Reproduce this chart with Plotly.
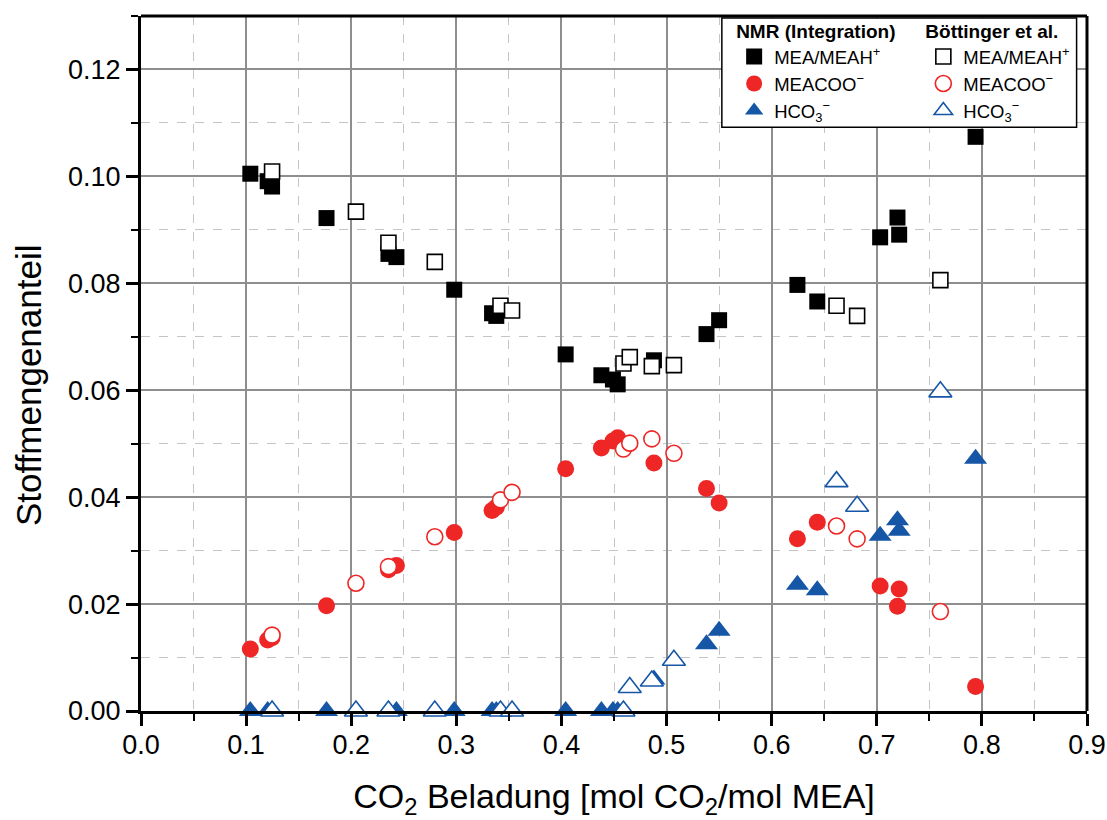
import plotly.graph_objects as go

# CO2 loading [mol CO2 / mol MEA]
nmr_x = [0.104, 0.1205, 0.1247, 0.1765, 0.2354, 0.243, 0.298, 0.334, 0.338, 0.404, 0.438,
         0.449, 0.4535, 0.488, 0.538, 0.550, 0.6245, 0.6434, 0.7032, 0.7197, 0.7213, 0.794]
nmr_mea = [0.1005, 0.0991, 0.0981, 0.0922, 0.0855, 0.0849, 0.0788, 0.0744, 0.0739, 0.0667, 0.0628,
           0.0620, 0.0611, 0.0656, 0.0705, 0.0731, 0.0797, 0.0766, 0.0886, 0.0923, 0.0891, 0.1074]
nmr_meacoo = [0.0116, 0.0133, 0.0137, 0.0197, 0.0264, 0.0272, 0.0334, 0.0375, 0.0381, 0.0453, 0.0492,
              0.0505, 0.0511, 0.0464, 0.0416, 0.0389, 0.0322, 0.0353, 0.0234, 0.0196, 0.0228, 0.0046]
nmr_hco3 = [0, 0, 0, 0, 0, 0, 0, 0, 0, 0, 0,
            0, 0, 0.0059, 0.0125, 0.0150, 0.0236, 0.0226, 0.0328, 0.0357, 0.0337, 0.0472]

bott_x = [0.1247, 0.2045, 0.2354, 0.2795, 0.342, 0.353, 0.459, 0.465, 0.486, 0.507, 0.6617, 0.6813, 0.7605]
bott_mea = [0.1009, 0.0934, 0.0876, 0.0840, 0.0758, 0.0749, 0.0650, 0.0662, 0.0645, 0.0647, 0.0758, 0.0739, 0.0806]
bott_meacoo = [0.0142, 0.0239, 0.0270, 0.0326, 0.0395, 0.0409, 0.0490, 0.0501, 0.0509, 0.0482, 0.0346, 0.0322, 0.0186]
bott_hco3 = [0, 0, 0, 0, 0, 0, 0, 0.0044, 0.0056, 0.0095, 0.0429, 0.0383, 0.0597]

x_ticks = [0.0, 0.1, 0.2, 0.3, 0.4, 0.5, 0.6, 0.7, 0.8, 0.9]
y_ticks = [0.00, 0.02, 0.04, 0.06, 0.08, 0.10, 0.12]

BLACK = "#000000"
RED = "#EE2626"
BLUE = "#1656A6"
FONT = "Liberation Sans, Arial, sans-serif"

names = ["MEA/MEAH<sup>+</sup>", "MEACOO<sup>−</sup>", "HCO<sub>3</sub><sup>−</sup>"]

fig = go.Figure()

# NMR integration: filled symbols
for y, name, sym, col, size in [
    (nmr_mea, names[0], "square", BLACK, 16),
    (nmr_meacoo, names[1], "circle", RED, 17),
    (nmr_hco3, names[2], "triangle-up", BLUE, 20),
]:
    fig.add_trace(go.Scatter(
        x=nmr_x, y=y, mode="markers", name=name, legend="legend",
        cliponaxis=False,
        marker=dict(symbol=sym, size=size, color=col, line=dict(width=0)),
    ))

# Literature data: open symbols
for y, name, sym, col, size in [
    (bott_mea, names[0], "square", BLACK, 15),
    (bott_meacoo, names[1], "circle", RED, 16),
    (bott_hco3, names[2], "triangle-up", BLUE, 20),
]:
    fig.add_trace(go.Scatter(
        x=bott_x, y=y, mode="markers", name=name, legend="legend2",
        cliponaxis=False,
        marker=dict(symbol=sym, size=size, color="white", line=dict(width=1.6, color=col)),
    ))

axis_common = dict(
    showline=True, linecolor="black", linewidth=3, mirror=False,
    ticks="outside", ticklen=12, tickwidth=2.5, tickcolor="black",
    showgrid=True, gridcolor="#8e8e8e", gridwidth=1.5,
    zeroline=False, automargin=False,
    tickfont=dict(family=FONT, size=27, color="black"),
    minor=dict(ticks="outside", ticklen=7, tickwidth=2, tickcolor="black",
               showgrid=True, gridcolor="#c4c4c4", gridwidth=1.2, griddash="dash"),
)

fig.update_xaxes(
    range=[0, 0.9], tickvals=x_ticks, tickformat=".1f",
    minor_dtick=0.05, ticklabelstandoff=-4,
    title=dict(text="CO<sub>2</sub> Beladung [mol CO<sub>2</sub>/mol MEA]",
               font=dict(family=FONT, size=34, color="black"), standoff=27),
    **axis_common,
)
fig.update_yaxes(
    range=[0, 0.13], tickvals=y_ticks, tickformat=".2f",
    minor_dtick=0.01,
    **axis_common,
)

# y-axis title
fig.add_annotation(
    text="Stoffmengenanteil", textangle=-90, showarrow=False,
    xref="paper", yref="paper", x=-0.1195, y=0.469,
    xanchor="center", yanchor="middle",
    font=dict(family=FONT, size=35, color="black"),
)

legend_common = dict(
    bgcolor="rgba(0,0,0,0)", borderwidth=0,
    font=dict(family=FONT, size=18.5, color="black"),
    xanchor="left", yanchor="top", tracegroupgap=0, itemclick=False,
)

fig.update_layout(
    width=1107, height=820,
    margin=dict(l=141, r=20, t=16, b=109, autoexpand=False),
    plot_bgcolor="white", paper_bgcolor="white",
    showlegend=True,
    legend=dict(x=0.627, y=1.004,
                title=dict(text="<b>NMR (Integration)</b>", font=dict(family=FONT, size=19)),
                **legend_common),
    legend2=dict(x=0.827, y=1.004,
                 title=dict(text="<b>Böttinger et al.</b>", font=dict(family=FONT, size=19)),
                 **legend_common),
    shapes=[dict(type="rect", xref="paper", yref="paper",
                 x0=0.614, x1=0.989, y0=0.840, y1=0.997,
                 line=dict(color="black", width=1.5), fillcolor="white", layer="above")],
)

# frame on top and right
fig.add_shape(type="line", xref="paper", yref="paper", x0=0, x1=1, y0=1, y1=1,
              line=dict(color="black", width=3), layer="above")
fig.add_shape(type="line", xref="paper", yref="paper", x0=1, x1=1, y0=0, y1=1,
              line=dict(color="black", width=3), layer="above")

fig.write_html("out.html")
